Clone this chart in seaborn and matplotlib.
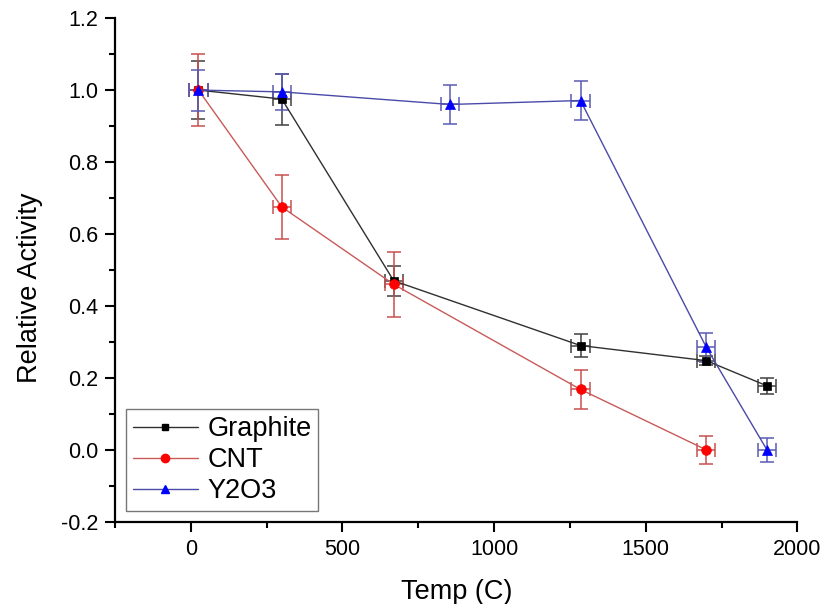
import numpy as np
import pandas as pd
import seaborn as sns
import matplotlib.pyplot as plt
from matplotlib.ticker import MultipleLocator
from matplotlib.lines import Line2D

# Measured relative activity after heat treatment
graphite_temp = [25, 300, 669, 1285, 1700, 1900]
graphite_act = [1.0, 0.975, 0.47, 0.29, 0.248, 0.178]
graphite_err = [0.08, 0.071, 0.041, 0.032, 0.012, 0.023]

cnt_temp = [25, 300, 669, 1285, 1700]
cnt_act = [1.0, 0.675, 0.46, 0.168, 0.0]
cnt_err = [0.1, 0.089, 0.09, 0.053, 0.04]

y2o3_temp = [25, 300, 855, 1285, 1700, 1900]
y2o3_act = [1.0, 0.995, 0.96, 0.971, 0.285, 0.0]
y2o3_err = [0.057, 0.05, 0.055, 0.055, 0.04, 0.033]

temp_err = 30

series_names = ["Graphite", "CNT", "Y2O3"]

sns.set_theme(style="ticks")
plt.rcParams["font.family"] = ["Liberation Sans", "DejaVu Sans"]
plt.rcParams["text.color"] = "black"
plt.rcParams["axes.labelcolor"] = "black"
plt.rcParams["xtick.color"] = "black"
plt.rcParams["ytick.color"] = "black"

fig = plt.figure(figsize=(8.34, 6.04), dpi=100)
ax = fig.add_axes([0.138, 0.136, 0.818, 0.834])

styles = {
    "Graphite": dict(marker="s", mfc="black", line="#303030", err="#404040", ms=6),
    "CNT": dict(marker="o", mfc="#ff0000", line="#c85a5a", err="#c85050", ms=7),
    "Y2O3": dict(marker="^", mfc="#0000ff", line="#4a4aa8", err="#5a5ab4", ms=7),
}

data = {
    "Graphite": (graphite_temp, graphite_act, graphite_err),
    "CNT": (cnt_temp, cnt_act, cnt_err),
    "Y2O3": (y2o3_temp, y2o3_act, y2o3_err),
}

handles = []
for name in series_names:
    t, a, e = data[name]
    st = styles[name]
    df = pd.DataFrame({"temp": t, "act": a})
    ax.errorbar(df["temp"], df["act"], yerr=e, xerr=temp_err, fmt="none",
                ecolor=st["err"], elinewidth=1.1, capsize=5, capthick=1.1, zorder=2)
    sns.lineplot(data=df, x="temp", y="act", ax=ax, color=st["line"], lw=1.0,
                 marker=st["marker"], markersize=st["ms"], markerfacecolor=st["mfc"],
                 markeredgecolor=st["mfc"], markeredgewidth=0.5, sort=False,
                 estimator=None, zorder=3)
    handles.append(Line2D([], [], color=st["line"], lw=1.0, marker=st["marker"],
                          markersize=st["ms"] - 1, markerfacecolor=st["mfc"],
                          markeredgecolor=st["mfc"], label=name))

ax.set_xlim(-250, 2000)
ax.set_ylim(-0.2, 1.2)
ax.xaxis.set_major_locator(MultipleLocator(500))
ax.xaxis.set_minor_locator(MultipleLocator(250))
ax.yaxis.set_major_locator(MultipleLocator(0.2))
ax.yaxis.set_minor_locator(MultipleLocator(0.1))
ax.yaxis.set_major_formatter(plt.FuncFormatter(lambda v, p: f"{v:.1f}"))

for side in ["top", "right"]:
    ax.spines[side].set_visible(False)
for side in ["left", "bottom"]:
    ax.spines[side].set_linewidth(1.6)
    ax.spines[side].set_color("black")

ax.tick_params(which="major", direction="out", length=7, width=1.5,
               labelsize=15.5, colors="black", pad=5)
ax.tick_params(which="minor", direction="out", length=4, width=1.5, colors="black")

ax.set_xlabel("Temp (C)", fontsize=19.5, labelpad=14, color="black")
ax.set_ylabel("Relative Activity", fontsize=19.5, color="black")
ax.yaxis.set_label_coords(-0.105, 0.465)

leg = ax.legend(handles=handles, loc="lower left", bbox_to_anchor=(0.016, 0.022),
                borderaxespad=0, fontsize=19.5, handlelength=2.4, handletextpad=0.35,
                labelspacing=0.18, frameon=True, fancybox=False, borderpad=0.25)
leg.get_frame().set_edgecolor("#555555")
leg.get_frame().set_linewidth(1.0)
for txt in leg.get_texts():
    txt.set_color("black")

fig.savefig("out.png", dpi=100)
